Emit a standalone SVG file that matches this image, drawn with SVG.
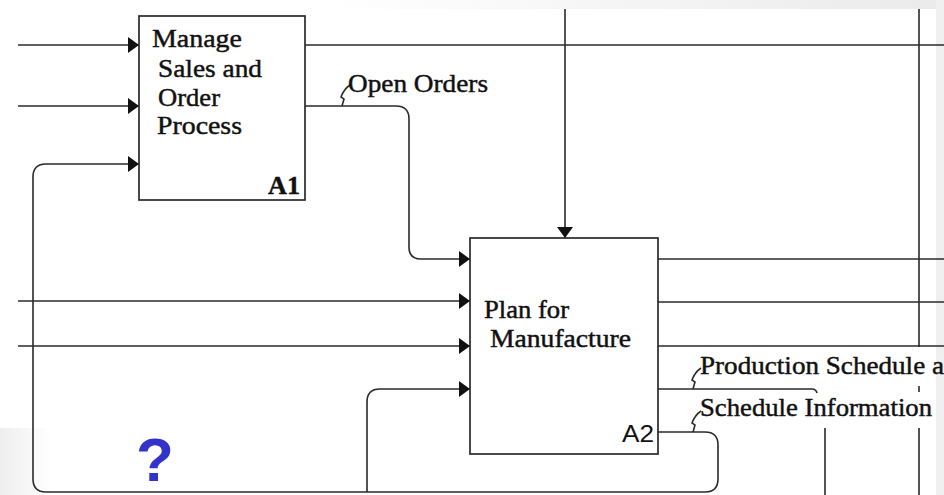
<svg xmlns="http://www.w3.org/2000/svg" width="944" height="495" viewBox="0 0 944 495">
  <defs>
    <linearGradient id="topband" x1="0" y1="0" x2="1" y2="0">
      <stop offset="0" stop-color="#ffffff"/>
      <stop offset="0.35" stop-color="#ffffff"/>
      <stop offset="1" stop-color="#eaeaea"/>
    </linearGradient>
    <linearGradient id="leftband" x1="1" y1="0" x2="0" y2="0">
      <stop offset="0" stop-color="#ffffff"/>
      <stop offset="1" stop-color="#eeeeee"/>
    </linearGradient>
    <marker id="arr" markerUnits="userSpaceOnUse" markerWidth="12" markerHeight="16" refX="11" refY="8" orient="auto">
      <path d="M0,0 L11,8 L0,16 z" fill="#111"/>
    </marker>
  </defs>
  <style>
    .ln { fill: none; stroke: #2a2a2a; stroke-width: 1.6; }
    .box { fill: #ffffff; stroke: #2a2a2a; stroke-width: 1.7; }
    .t { font-family: "Liberation Serif", "Times New Roman", serif; fill: #111; stroke: #111; stroke-width: 0.45; font-size: 26px; }
    .id { font-family: "Liberation Sans", Arial, sans-serif; fill: #111; font-size: 23px; }
    .q { font-family: "Liberation Sans", Arial, sans-serif; font-weight: bold; fill: #3333cc; font-size: 62px; }
  </style>

  <rect x="0" y="0" width="944" height="495" fill="#ffffff"/>
  <rect x="0" y="0" width="944" height="9" fill="url(#topband)"/>
  <rect x="936" y="0" width="8" height="495" fill="#f0f0f0"/>
  <rect x="0" y="428" width="52" height="67" fill="url(#leftband)"/>

  <g id="connectors">
    <!-- inputs to A1 -->
    <path class="ln" d="M18,45 H139" marker-end="url(#arr)"/>
    <path class="ln" d="M18,106 H139" marker-end="url(#arr)"/>
    <!-- A1 outputs -->
    <path class="ln" d="M305,45 H944"/>
    <path class="ln" d="M305,106 H396 Q409,106 409,119 V247 Q409,259 421,259 H470" marker-end="url(#arr)"/>
    <!-- control into A2 -->
    <path class="ln" d="M565,9 V238" marker-end="url(#arr)"/>
    <!-- inputs to A2 from left -->
    <path class="ln" d="M18,301 H470" marker-end="url(#arr)"/>
    <path class="ln" d="M18,346 H470" marker-end="url(#arr)"/>
    <!-- A2 outputs to right -->
    <path class="ln" d="M658,259 H944"/>
    <path class="ln" d="M658,302 H944"/>
    <path class="ln" d="M658,346 H944"/>
    <!-- Production Schedule -->
    <path class="ln" d="M658,389 H812 Q816,389 817,393"/>
    <!-- Schedule Information feedback loop -->
    <path class="ln" d="M658,432 H705 Q718,432 718,445 V479 Q718,492 705,492 H46 Q33,492 33,479 V177 Q33,164 46,164 H139" marker-end="url(#arr)"/>
    <path class="ln" d="M367,492 V402 Q367,389 380,389 H470" marker-end="url(#arr)"/>
    <!-- right vertical lines -->
    <path class="ln" d="M919,9 V347 M919,386 V392 M919,428 V495"/>
    <path class="ln" d="M825,428 V495"/>
    <!-- label squiggles -->
    <path class="ln" d="M342,106 L344,99 L341,97 Q344,89 350,85" stroke-width="1.2"/>
    <path class="ln" d="M693,389 L695,382 L692,380 Q695,372 701,368" stroke-width="1.2"/>
    <path class="ln" d="M693,432 L695,425 L692,423 Q695,415 701,411" stroke-width="1.2"/>
  </g>

  <g id="A1">
    <rect class="box" x="139" y="16" width="166" height="184"/>
    <text class="t" x="152" y="47" textLength="90" lengthAdjust="spacingAndGlyphs">Manage</text>
    <text class="t" x="158" y="77" textLength="104" lengthAdjust="spacingAndGlyphs">Sales and</text>
    <text class="t" x="158" y="106" textLength="62" lengthAdjust="spacingAndGlyphs">Order</text>
    <text class="t" x="157" y="134" textLength="85" lengthAdjust="spacingAndGlyphs">Process</text>
    <text class="t" x="268" y="194" textLength="32" lengthAdjust="spacingAndGlyphs" font-weight="bold">A1</text>
  </g>

  <g id="A2">
    <rect class="box" x="470" y="238" width="188" height="216"/>
    <text class="t" x="484" y="318" textLength="85" lengthAdjust="spacingAndGlyphs">Plan for</text>
    <text class="t" x="490" y="347" textLength="141" lengthAdjust="spacingAndGlyphs">Manufacture</text>
    <text class="id" x="622" y="442" textLength="32" lengthAdjust="spacingAndGlyphs">A2</text>
  </g>

  <g id="labels">
    <text class="t" x="348" y="92" textLength="140" lengthAdjust="spacingAndGlyphs">Open Orders</text>
    <text class="t" x="700" y="374" textLength="244" lengthAdjust="spacingAndGlyphs">Production Schedule a</text>
    <text class="t" x="700" y="416" textLength="232" lengthAdjust="spacingAndGlyphs">Schedule Information</text>
    <text class="q" x="136" y="481">?</text>
  </g>
</svg>
